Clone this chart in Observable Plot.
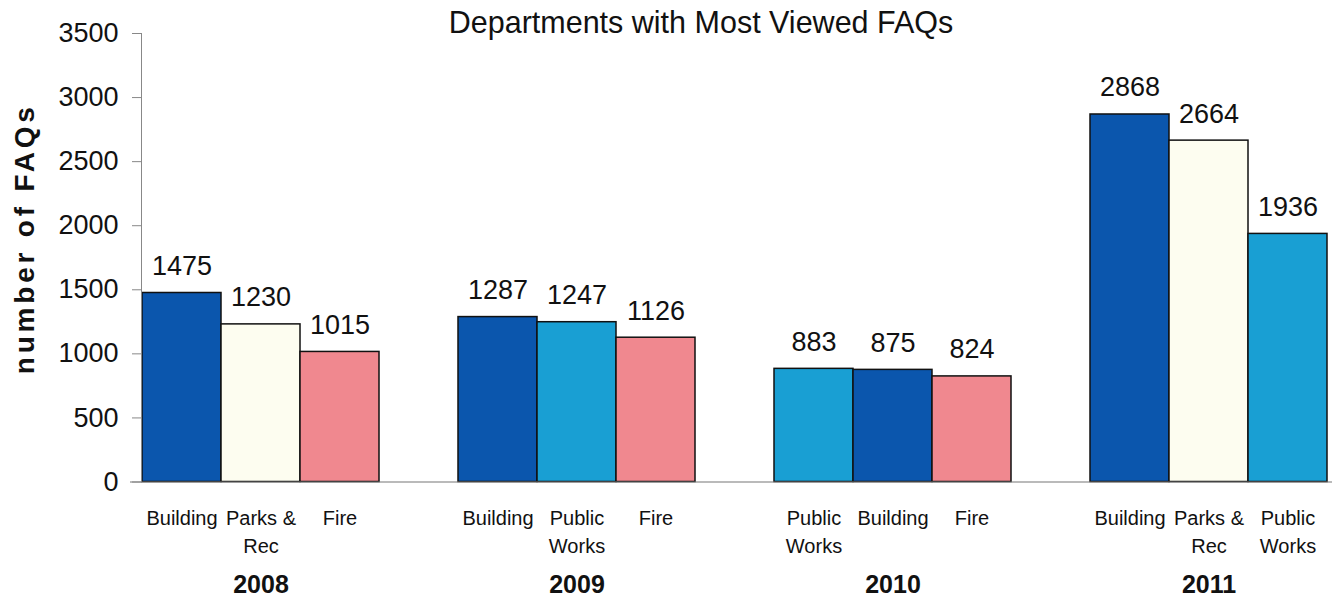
<!DOCTYPE html>
<html><head><meta charset="utf-8">
<script src="https://cdn.jsdelivr.net/npm/d3@7"></script>
<script src="https://cdn.jsdelivr.net/npm/@observablehq/plot@0.6"></script>
<style>
body{margin:0;background:#fff;}
text[aria-label="ylabel"], g[aria-label="ylabel"] text{letter-spacing:3.8px;}
</style></head><body><div id="chart"></div>
<script>
const title = "Departments with Most Viewed FAQs";
const yLabel = "number of FAQs";
const years = ["2008", "2009", "2010", "2011"];
const departmentsByYear = [
  ["Building", "Parks & Rec", "Fire"],
  ["Building", "Public Works", "Fire"],
  ["Public Works", "Building", "Fire"],
  ["Building", "Parks & Rec", "Public Works"]
];
const valuesByYear = [
  [1475, 1230, 1015],
  [1287, 1247, 1126],
  [883, 875, 824],
  [2868, 2664, 1936]
];
const departmentTickLabels = {
  "Building": "Building",
  "Parks & Rec": "Parks &\nRec",
  "Public Works": "Public\nWorks",
  "Fire": "Fire"
};
const yTicks = [0, 500, 1000, 1500, 2000, 2500, 3000, 3500];

const colorDomain = ["Building", "Parks & Rec", "Public Works", "Fire"];
const colorRange = ["#0b56ad", "#fdfdf0", "#199fd3", "#f0888f"];

// build table + slot domain (3 bars per year, one empty slot between years)
const rows = [];
const slotDomain = [];
const yearRows = [];
years.forEach((yr, i) => {
  departmentsByYear[i].forEach((dept, j) => {
    const slot = `${yr}|${j}`;
    slotDomain.push(slot);
    rows.push({year: yr, slot, dept, value: valuesByYear[i][j]});
  });
  yearRows.push({year: yr, slot: `${yr}|1`});
  if (i < years.length - 1) slotDomain.push(`${yr}|gap`);
});

const chart = Plot.plot({
  width: 1332,
  height: 596,
  marginLeft: 141,
  marginRight: 4,
  marginTop: 33,
  marginBottom: 114.5,
  style: {fontFamily: "'Liberation Sans', Arial, sans-serif", background: "#fff", color: "#111"},
  x: {domain: slotDomain, padding: 0, axis: null},
  y: {domain: [0, 3500], axis: null},
  color: {domain: colorDomain, range: colorRange},
  marks: [
    Plot.barY(rows, {x: "slot", y: "value", fill: "dept", stroke: "#111", strokeWidth: 1.5}),
    Plot.frame({anchor: "left", stroke: "#888"}),
    Plot.ruleY([0], {insetLeft: -11, insetRight: -4, stroke: "#777", strokeWidth: 1.2}),
    Plot.axisY({ticks: yTicks, tickFormat: d => String(d), tickSize: 9, tickPadding: 14, fontSize: 27, label: null, stroke: "#888", fill: "#111"}),
    Plot.text(rows, {x: "slot", y: "value", text: d => String(d.value), dy: -18, lineAnchor: "bottom", fontSize: 27, fill: "#111"}),
    Plot.text(rows, {x: "slot", text: d => departmentTickLabels[d.dept], frameAnchor: "bottom", lineAnchor: "top", dy: 23.5, fontSize: 20, lineHeight: 1.4, fill: "#111"}),
    Plot.text(yearRows, {x: "slot", text: "year", frameAnchor: "bottom", lineAnchor: "bottom", dy: 110.5, fontSize: 25, fontWeight: "bold", fill: "#111"}),
    Plot.text([title], {frameAnchor: "top", lineAnchor: "bottom", dy: -1, dx: -34, fontSize: 30.5, fill: "#111"}),
    Plot.text([yLabel], {frameAnchor: "left", textAnchor: "middle", rotate: -90, dx: -116, dy: -19, fontSize: 28, fontWeight: "bold", fill: "#111", ariaLabel: () => "ylabel"})
  ]
});
document.getElementById("chart").appendChild(chart);
</script></body></html>
